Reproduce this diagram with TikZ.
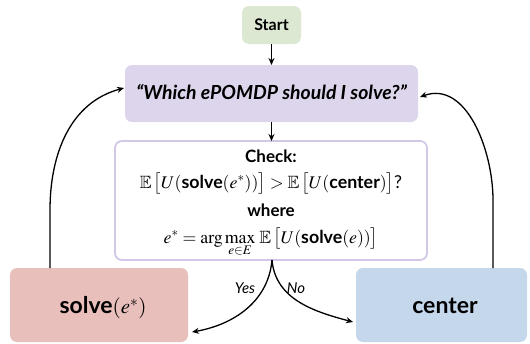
\documentclass[tikz,border=0pt]{standalone}
\usepackage{amsmath}
\usepackage{amssymb}
\usepackage{mathptmx}
\usepackage[no-math]{fontspec}
\setmainfont{Lato}
\usetikzlibrary{arrows.meta}
\definecolor{cgreen}{HTML}{DCE8D2}
\definecolor{cpurple}{HTML}{DCD5EC}
\definecolor{cborder}{HTML}{D2C7E8}
\definecolor{cpink}{HTML}{E8BFBA}
\definecolor{cblue}{HTML}{C4D7EB}
\tikzset{
  box/.style={rounded corners=7pt},
  arr/.style={-{Stealth[length=7pt,width=6pt]}, line width=1.3pt},
  lbl/.style={inner sep=0pt, font=\fontsize{15}{18}\selectfont\itshape},
  txt/.style={inner sep=0pt}
}
\newcommand{\bsf}[1]{\text{\bfseries #1}}
\begin{document}
\begin{tikzpicture}[x=1pt,y=-1pt]
\path[use as bounding box] (0,0) rectangle (530,343);
% boxes
\path[box, fill=cgreen] (242,6) rectangle (301,44);
\node[txt] (start) at (271.5,25) {\fontsize{16}{19}\selectfont\bfseries Start};
\coordinate (startS) at (271.5,44);

\path[box, fill=cpurple] (125,65) rectangle (418,122);
\node[txt] (ask) at (271.5,92.5) {\fontsize{19.4}{22}\selectfont\bfseries\itshape “Which ePOMDP should I solve?”};
\coordinate (askN) at (271.5,65);
\coordinate (askS) at (271.5,122);
\coordinate (askW) at (124,88);
\coordinate (askE) at (420,97);

\draw[box, draw=cborder, line width=1.8pt, fill=white] (115,141) rectangle (427,260);
\node[txt] (check1) at (271,156) {\fontsize{17}{20}\selectfont\bfseries Check:};
\node[txt, anchor=base] (check2) at (271,188) {\fontsize{17.8}{21}\selectfont $\mathbb{E}\,\bigl[U(\bsf{solve}(e^*))\bigr] > \mathbb{E}\,\bigl[U(\bsf{center})\bigr]$?};
\node[txt] (check3) at (271,210) {\fontsize{17}{20}\selectfont\bfseries where};
\node[txt, anchor=base] (check4) at (271,243) {\fontsize{17.8}{21}\selectfont $e^* = \arg\max\limits_{e\in E}\,\mathbb{E}\,\bigl[U(\bsf{solve}(e))\bigr]$};
\coordinate (checkN) at (271.5,141);
\coordinate (checkS) at (272,260);

\path[box, fill=cpink] (10,268) rectangle (188,342);
\node[txt] (solve) at (103,308) {\fontsize{23}{27}\selectfont\bfseries solve\fontsize{21}{25}\selectfont$(e^*)$};
\coordinate (solveN) at (50,268);
\coordinate (solveE) at (192,332);

\path[box, fill=cblue] (356,268) rectangle (527,342);
\node[txt] (center) at (445,306) {\fontsize{23}{27}\selectfont\bfseries center};
\coordinate (centerN) at (493,268);
\coordinate (centerW) at (353,322);

% connectors
\draw[arr] (solveN) -- (50,210) to[out=90,in=195] (askW);
\draw[arr] (centerN) -- (493,200) to[out=90,in=20] (askE);
\draw[arr] (startS) -- (askN);
\draw[arr] (askS) -- (checkN);
\draw[arr] (checkS) to[out=-95,in=10] (solveE);
\draw[arr] (checkS) to[out=-85,in=165] (centerW);
\node[lbl] (yes) at (245,288) {Yes};
\node[lbl] (no) at (296,288) {No};
\end{tikzpicture}
\end{document}
